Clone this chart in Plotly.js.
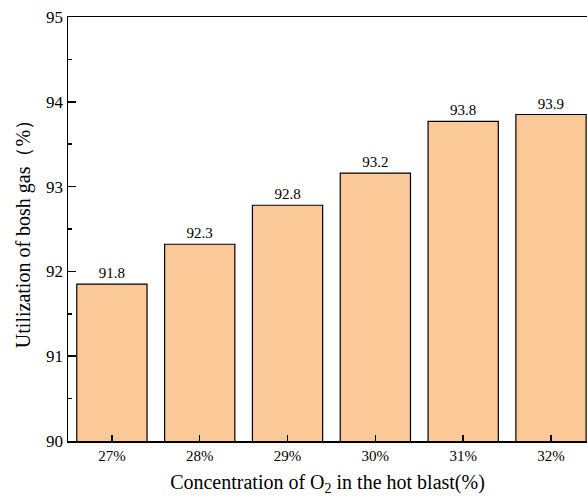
<!DOCTYPE html>
<html>
<head>
<meta charset="utf-8">
<script src="https://cdn.plot.ly/plotly-3.0.1.min.js"></script>
<style>html,body{margin:0;padding:0;background:#fff;}#chart{width:587px;height:502px;}</style>
</head>
<body>
<div id="chart"></div>
<script>
const categories = ['27%', '28%', '29%', '30%', '31%', '32%'];
const utilization = [91.85, 92.32, 92.78, 93.16, 93.77, 93.85];
const barLabels = ['91.8', '92.3', '92.8', '93.2', '93.8', '93.9'];
const yTicks = [90, 91, 92, 93, 94, 95];

const serif = 'Liberation Serif';

const trace = {
  type: 'bar',
  x: categories,
  y: utilization,
  text: barLabels,
  textposition: 'outside',
  cliponaxis: false,
  textfont: {family: serif, size: 15, color: '#000'},
  marker: {color: '#FBC898', line: {color: '#000', width: 1.2}},
  width: 0.8,
  hoverinfo: 'skip'
};

const layout = {
  width: 587, height: 502,
  margin: {l: 68, r: 0, t: 17, b: 61},
  paper_bgcolor: '#fff', plot_bgcolor: '#fff',
  showlegend: false,
  bargap: 0.2,
  font: {family: serif, color: '#000'},
  xaxis: {
    type: 'category',
    range: [-0.5, 5.41],
    showline: true, mirror: true, linecolor: '#000', linewidth: 1.5,
    ticks: 'inside', ticklen: 6, tickwidth: 1.5, tickcolor: '#000',
    tickfont: {family: serif, size: 15, color: '#000'},
    showgrid: false, zeroline: false,
    title: {text: 'Concentration of O<sub>2</sub> in the hot blast(%)', font: {family: serif, size: 20, color: '#000'}, standoff: 12}
  },
  yaxis: {
    range: [90, 95],
    tickvals: yTicks,
    showline: true, linecolor: '#000', linewidth: 1.5,
    ticks: 'inside', ticklen: 8, tickwidth: 1.5, tickcolor: '#000',
    minor: {dtick: 0.5, ticks: 'inside', ticklen: 4, tickwidth: 1.5, tickcolor: '#000', showgrid: false},
    tickfont: {family: serif, size: 17, color: '#000'},
    showgrid: false, zeroline: false,
    title: {text: 'Utilization of bosh gas（%）', font: {family: serif, size: 20, color: '#000'}, standoff: 10}
  }
};

Plotly.newPlot('chart', [trace], layout, {displayModeBar: false, staticPlot: true});
</script>
</body>
</html>
